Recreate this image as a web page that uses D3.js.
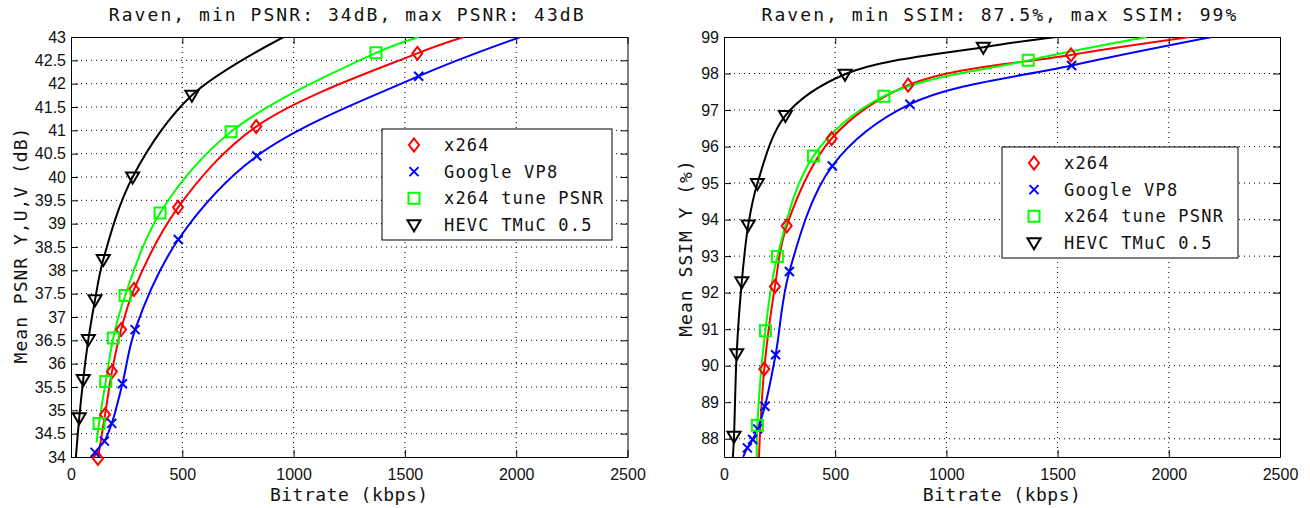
<!DOCTYPE html>
<html>
<head>
<meta charset="utf-8">
<script src="https://cdn.jsdelivr.net/npm/d3@7"></script>
<style>
  body { margin: 0; background: #fff; }
  text { fill: #111; }
</style>
</head>
<body>
<div id="chart"></div>
<script>
var seriesNames = ["x264", "Google VP8", "x264 tune PSNR", "HEVC TMuC 0.5"];
var seriesColors = ["#ff0000", "#0000ff", "#00ff00", "#000000"];
var seriesSymbols = ["diamond", "cross", "square", "triangle"];

var xTicks = [0, 500, 1000, 1500, 2000, 2500];
var psnrTicks = [34, 34.5, 35, 35.5, 36, 36.5, 37, 37.5, 38, 38.5, 39, 39.5, 40, 40.5, 41, 41.5, 42, 42.5, 43];
var ssimTicks = [88, 89, 90, 91, 92, 93, 94, 95, 96, 97, 98, 99];

// [bitrate kbps, mean PSNR dB] at the markers
var psnrX264 = [[121, 33.97], [153, 34.91], [184, 35.83], [225, 36.73], [283, 37.59], [481, 39.35], [832, 41.08], [1556, 42.65]];
var psnrVP8  = [[108, 34.10], [150, 34.34], [183, 34.72], [231, 35.57], [288, 36.73], [482, 38.66], [835, 40.45], [1562, 42.16]];
var psnrTune = [[126, 34.72], [156, 35.62], [190, 36.55], [243, 37.46], [400, 39.23], [719, 40.97], [1370, 42.66]];
var psnrHEVC = [[37, 34.84], [55, 35.66], [78, 36.52], [108, 37.37], [145, 38.23], [277, 40.00], [543, 41.75]];
// where each fitted curve starts / leaves the plot
var psnrEnds = [[null, [1764, 43]], [[100, 34.0], [2019, 43]], [[115, 34.31], [1562, 43]], [[22, 34.0], [955, 43]]];

// [bitrate kbps, mean SSIM Y %] at the markers
var ssimX264 = [[181, 89.91], [229, 92.17], [282, 93.83], [484, 96.22], [828, 97.68], [1560, 98.51]];
var ssimVP8  = [[105, 87.75], [129, 87.98], [151, 88.27], [184, 88.89], [232, 90.30], [294, 92.58], [487, 95.47], [836, 97.16], [1563, 98.22]];
var ssimTune = [[150, 88.37], [186, 90.96], [240, 92.99], [402, 95.74], [719, 97.38], [1368, 98.36]];
var ssimHEVC = [[45, 88.07], [57, 90.33], [80, 92.30], [109, 93.85], [150, 94.99], [276, 96.85], [544, 97.98], [1166, 98.72]];
var ssimEnds = [[[157, 87.5], [2095, 99]], [[86, 87.5], [2193, 99]], [[147, 87.5], [1900, 99]], [[40, 87.5], [1496, 99]]];

var width = 1310, height = 508;
var top_ = 37, bottom = 457;

var svg = d3.select("#chart").append("svg")
    .attr("width", width)
    .attr("height", height);

var symbolPaths = {
  diamond: "M0,-6.5L5,0L0,6.5L-5,0Z",
  square: "M-5.5,-5.5H5.5V5.5H-5.5Z",
  cross: "M-4.5,-4.5L4.5,4.5M-4.5,4.5L4.5,-4.5",
  triangle: "M-6.5,-4.5L6.5,-4.5L0,6.5Z"
};

var panels = [
  {id: "psnr", left: 71, right: 627.5, yDomain: [34, 43], yTicks: psnrTicks,
   title: "Raven, min PSNR: 34dB, max PSNR: 43dB", yLabel: "Mean PSNR Y,U,V (dB)",
   yLabelX: 27, yLabelY: 245, data: [psnrX264, psnrVP8, psnrTune, psnrHEVC], ends: psnrEnds,
   legend: {x: 382, y: 129, w: 230, h: 111}},
  {id: "ssim", left: 724, right: 1280, yDomain: [87.5, 99], yTicks: ssimTicks,
   title: "Raven, min SSIM: 87.5%, max SSIM: 99%", yLabel: "Mean SSIM Y (%)",
   yLabelX: 692, yLabelY: 248, data: [ssimX264, ssimVP8, ssimTune, ssimHEVC], ends: ssimEnds,
   legend: {x: 1002, y: 147, w: 236, h: 111}}
];

panels.forEach(drawPanel);

function drawPanel(p) {
  var x = d3.scaleLinear().domain([0, 2500]).range([p.left, p.right]);
  var y = d3.scaleLinear().domain(p.yDomain).range([bottom, top_]);
  var g = svg.append("g");

  // dotted grid
  g.append("g").selectAll("line")
      .data(xTicks.filter(function(d) { return d > 0 && d < 2500; }))
      .enter().append("line")
      .attr("x1", function(d) { return x(d); })
      .attr("x2", function(d) { return x(d); })
      .attr("y1", top_).attr("y2", bottom)
      .attr("stroke", "#000").attr("stroke-dasharray", "1,4");
  g.append("g").selectAll("line")
      .data(p.yTicks.filter(function(d) { return d > p.yDomain[0] && d < p.yDomain[1]; }))
      .enter().append("line")
      .attr("y1", function(d) { return y(d); })
      .attr("y2", function(d) { return y(d); })
      .attr("x1", p.left).attr("x2", p.right)
      .attr("stroke", "#000").attr("stroke-dasharray", "1,4");

  // axes, ticks pointing inward
  var ax = [
    g.append("g").attr("transform", "translate(0," + bottom + ")")
      .call(d3.axisBottom(x).tickValues(xTicks).tickSize(-7).tickSizeOuter(0).tickPadding(12).tickFormat(String)),
    g.append("g").attr("transform", "translate(0," + top_ + ")")
      .call(d3.axisTop(x).tickValues(xTicks).tickSize(-7).tickSizeOuter(0).tickFormat("")),
    g.append("g").attr("transform", "translate(" + p.left + ",0)")
      .call(d3.axisLeft(y).tickValues(p.yTicks).tickSize(-7).tickSizeOuter(0).tickPadding(5).tickFormat(String)),
    g.append("g").attr("transform", "translate(" + p.right + ",0)")
      .call(d3.axisRight(y).tickValues(p.yTicks).tickSize(-7).tickSizeOuter(0).tickFormat(""))
  ];
  ax.forEach(function(a) {
    a.attr("font-family", "'Liberation Sans', Arial, sans-serif").attr("font-size", 16);
    a.selectAll("path,line").attr("stroke", "#000");
    a.selectAll("text").attr("fill", "#111");
  });

  // curves
  var clipId = "clip-" + p.id;
  svg.append("clipPath").attr("id", clipId).append("rect")
      .attr("x", p.left).attr("y", top_)
      .attr("width", p.right - p.left).attr("height", bottom - top_);

  var line = d3.line()
      .x(function(d) { return x(d[0]); })
      .y(function(d) { return y(d[1]); })
      .curve(d3.curveCatmullRom.alpha(0.5));

  p.data.forEach(function(pts, i) {
    var e = p.ends[i];
    var full = (e[0] ? [e[0]] : []).concat(pts, e[1] ? [e[1]] : []);
    g.append("path")
        .attr("clip-path", "url(#" + clipId + ")")
        .attr("d", line(full))
        .attr("fill", "none")
        .attr("stroke", seriesColors[i])
        .attr("stroke-width", 2);
  });

  p.data.forEach(function(pts, i) {
    g.append("g").selectAll("path")
        .data(pts)
        .enter().append("path")
        .attr("transform", function(d) { return "translate(" + x(d[0]) + "," + y(d[1]) + ")"; })
        .attr("d", symbolPaths[seriesSymbols[i]])
        .attr("fill", "none")
        .attr("stroke", seriesColors[i])
        .attr("stroke-width", 2);
  });

  // titles
  var mono = "'DejaVu Sans Mono', monospace";
  g.append("text")
      .attr("x", (p.left + p.right) / 2 - 2).attr("y", 21)
      .attr("text-anchor", "middle")
      .attr("font-family", mono).attr("font-size", 18)
      .attr("letter-spacing", 2.05)
      .text(p.title);
  g.append("text")
      .attr("x", (p.left + p.right) / 2).attr("y", 501)
      .attr("text-anchor", "middle")
      .attr("font-family", mono).attr("font-size", 18)
      .attr("letter-spacing", 0.5)
      .text("Bitrate (kbps)");
  g.append("text")
      .attr("transform", "translate(" + p.yLabelX + "," + p.yLabelY + ") rotate(-90)")
      .attr("text-anchor", "middle")
      .attr("font-family", mono).attr("font-size", 18)
      .attr("letter-spacing", 1.0)
      .text(p.yLabel);

  // legend
  var lg = g.append("g").attr("transform", "translate(" + p.legend.x + "," + p.legend.y + ")");
  lg.append("rect")
      .attr("width", p.legend.w).attr("height", p.legend.h)
      .attr("fill", "#fff").attr("stroke", "#000");
  var row = lg.selectAll("g.row")
      .data(seriesNames)
      .enter().append("g")
      .attr("class", "row")
      .attr("transform", function(d, i) { return "translate(0," + (16 + i * 26.6) + ")"; });
  row.append("path")
      .attr("transform", "translate(32,0)")
      .attr("d", function(d, i) { return symbolPaths[seriesSymbols[i]]; })
      .attr("fill", "none")
      .attr("stroke", function(d, i) { return seriesColors[i]; })
      .attr("stroke-width", 2);
  row.append("text")
      .attr("x", 62).attr("y", 6)
      .attr("font-family", mono).attr("font-size", 17)
      .attr("letter-spacing", 1.2)
      .text(function(d) { return d; });
}
</script>
</body>
</html>
